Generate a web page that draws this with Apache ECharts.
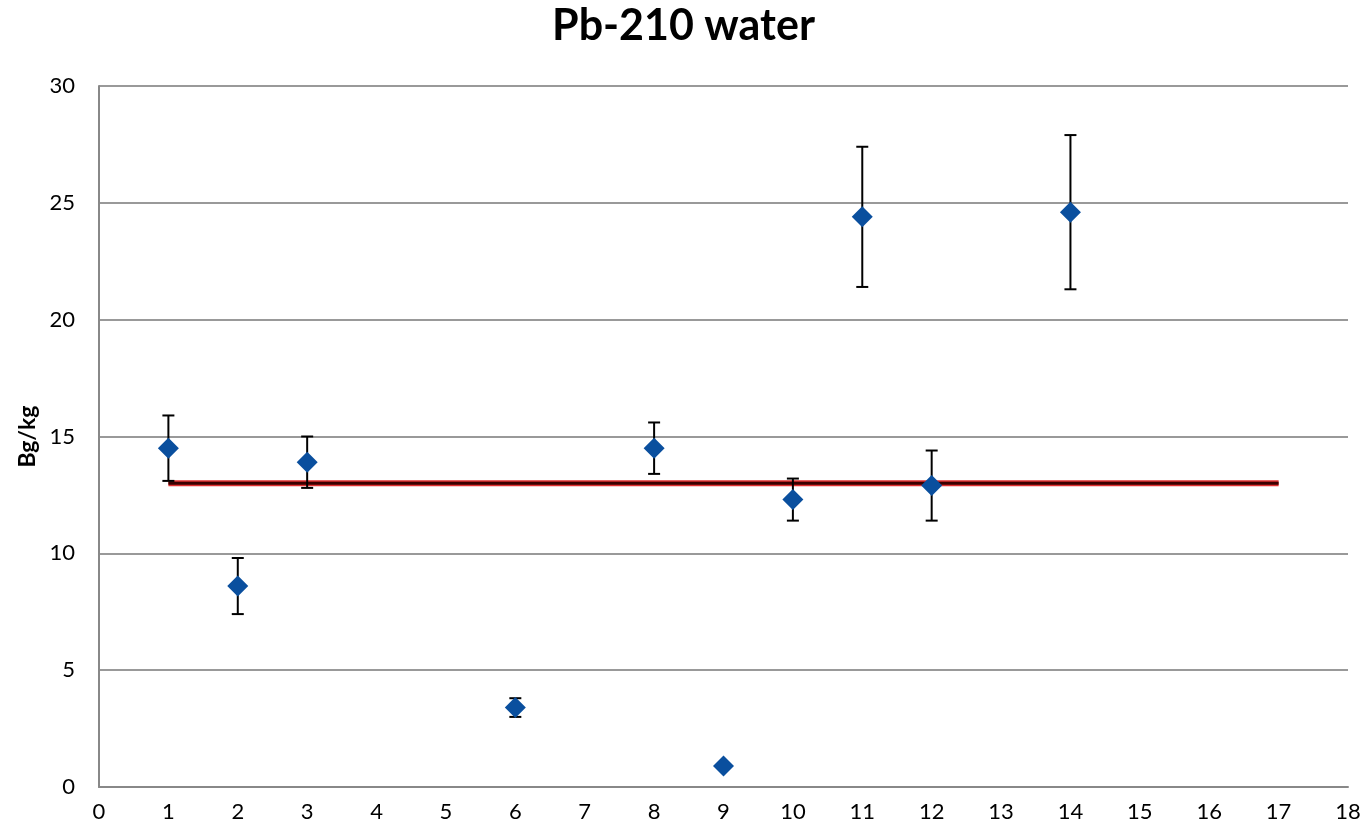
<!DOCTYPE html>
<html>
<head>
<meta charset="utf-8">
<title>Pb-210 water</title>
<script src="https://cdn.jsdelivr.net/npm/echarts@6/dist/echarts.min.js"></script>
<style>
	html, body { margin: 0; padding: 0; background: #fff; }
	#chart { width: 1367px; height: 836px; }
</style>
</head>
<body>
<div id="chart"></div>
<script>
	// lab number, measured value and error bar ends
	var labs = [1, 2, 3, 6, 8, 9, 10, 11, 12, 14];
	var values = [14.5, 8.6, 13.9, 3.4, 14.5, 0.9, 12.3, 24.4, 12.9, 24.6];
	var errTop = [15.9, 9.8, 15.0, 3.8, 15.6, 0.9, 13.2, 27.4, 14.4, 27.9];
	var errBottom = [13.1, 7.4, 12.8, 3.0, 13.4, 0.9, 11.4, 21.4, 11.4, 21.3];
	// reference value line
	var refX = [1, 17];
	var refValue = 13;

	var fontName = 'Lato, "Open Sans", sans-serif';

	var points = [];
	var bars = [];
	for (var i = 0; i < labs.length; i++) {
		points.push([labs[i], values[i]]);
		bars.push([labs[i], errBottom[i], errTop[i]]);
	}
	var refLine = [[refX[0], refValue], [refX[1], refValue]];

	var myChart = echarts.init(document.getElementById('chart'));
	myChart.setOption({
		animation : false,
		title : {
			text : 'Pb-210 water',
			left : 'center',
			top : 0,
			textStyle : {
				fontFamily : fontName,
				fontSize : 43,
				fontWeight : 'bold',
				color : '#000'
			}
		},
		grid : {
			left : 99,
			right : 19,
			top : 86,
			bottom : 49
		},
		xAxis : {
			type : 'value',
			min : 0,
			max : 18,
			interval : 1,
			axisLine : { show : true, lineStyle : { color : '#888', width : 2 } },
			axisTick : { show : false },
			splitLine : { show : false },
			axisLabel : { color : '#000', fontSize : 22, fontFamily : fontName, margin : 14 }
		},
		yAxis : {
			type : 'value',
			min : 0,
			max : 30,
			interval : 5,
			name : 'Bg/kg',
			nameLocation : 'middle',
			nameGap : 58,
			nameTextStyle : { color : '#000', fontSize : 23, fontWeight : 'bold', fontFamily : fontName },
			axisLine : { show : true, lineStyle : { color : '#888', width : 2 } },
			axisTick : { show : false },
			splitLine : { show : true, lineStyle : { color : '#999', width : 2 } },
			axisLabel : { color : '#000', fontSize : 22, fontFamily : fontName, margin : 24 }
		},
		series : [
			{
				type : 'line',
				data : refLine,
				symbol : 'none',
				lineStyle : { color : '#e03030', width : 6 },
				z : 2
			},
			{
				type : 'line',
				data : refLine,
				symbol : 'none',
				lineStyle : { color : '#3a0000', width : 3 },
				z : 3
			},
			{
				type : 'custom',
				data : bars,
				z : 4,
				renderItem : function(params, api) {
					var x = api.value(0);
					var lo = api.coord([x, api.value(1)]);
					var hi = api.coord([x, api.value(2)]);
					var cap = 6;
					var style = { stroke : '#000', lineWidth : 2 };
					return {
						type : 'group',
						children : [
							{ type : 'line', shape : { x1 : lo[0], y1 : lo[1], x2 : hi[0], y2 : hi[1] }, style : style },
							{ type : 'line', shape : { x1 : hi[0] - cap, y1 : hi[1], x2 : hi[0] + cap, y2 : hi[1] }, style : style },
							{ type : 'line', shape : { x1 : lo[0] - cap, y1 : lo[1], x2 : lo[0] + cap, y2 : lo[1] }, style : style }
						]
					};
				}
			},
			{
				type : 'scatter',
				data : points,
				symbol : 'diamond',
				symbolSize : [21, 21],
				itemStyle : { color : '#0a4f9e', opacity : 1 },
				z : 5
			}
		]
	});
</script>
</body>
</html>
